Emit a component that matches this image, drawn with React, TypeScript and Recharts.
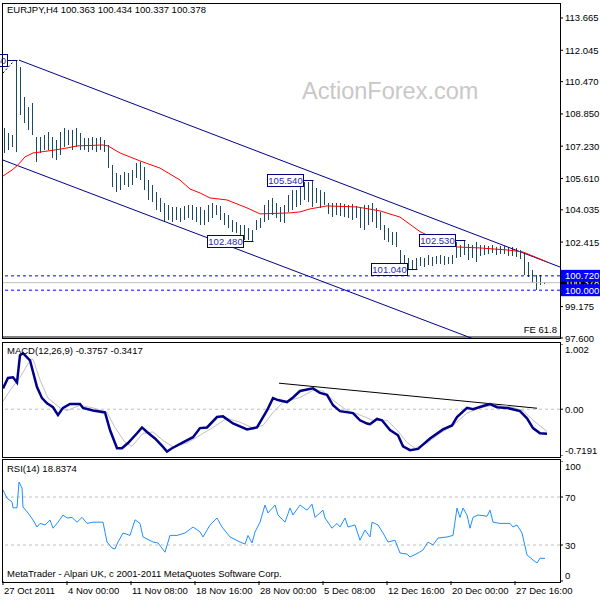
import React from "react";
import {
  ComposedChart,
  Bar,
  Line,
  XAxis,
  YAxis,
  ReferenceLine,
  ReferenceDot,
} from "recharts";

const FONT = "'Liberation Sans', Arial, sans-serif";
const FS = 9.5;

// H4 bars, two real bars per slot
const barHigh = [
  108.14, 107.89, 107.79, 111.55, 111.21, 109.7, 109.2, 109.4, 107.69, 107.69,
  107.79, 107.94, 107.69, 107.54, 107.94, 108.14, 108.04, 108.04, 108.14, 107.89,
  107.64, 107.64, 107.69, 107.64, 107.69, 107.54, 107.29, 106.29, 105.88, 105.78,
  105.93, 105.88, 106.03, 106.39, 106.44, 106.19, 105.53, 105.28, 104.93, 104.63,
  104.38, 104.28, 104.18, 104.18, 104.13, 104.23, 104.28, 104.28, 104.18, 104.18,
  104.03, 104.28, 104.38, 104.28, 104.23, 103.87, 103.77, 103.52, 103.42, 103.27,
  103.27, 103.12, 103.02, 103.52, 103.62, 104.28, 104.53, 104.63, 104.38, 104.18,
  104.28, 104.78, 105.03, 105.03, 105.28, 105.43, 105.43, 105.54, 105.13, 105.03,
  104.93, 104.38, 104.38, 104.38, 104.38, 104.33, 104.28, 104.33, 104.23, 104.13,
  104.28, 104.28, 104.38, 104.13, 103.93, 103.27, 103.12, 102.92, 102.92, 102.02,
  101.77, 101.62, 101.52, 101.62, 101.67, 101.62, 101.77, 101.67, 101.72, 101.77,
  101.72, 101.67, 101.77, 102.42, 102.27, 102.53, 102.32, 102.27, 102.42, 102.27,
  102.27, 102.22, 102.27, 102.17, 102.22, 102.22, 102.17, 102.17, 102.12, 102.02,
  101.87, 101.42, 101.01, 100.76, 100.76, 100.43,
];

const barLow = [
  106.89, 107.04, 107.19, 106.94, 108.79, 108.39, 108.04, 107.79, 106.44, 106.89,
  107.04, 107.04, 106.64, 106.54, 106.79, 107.19, 107.29, 107.04, 107.19, 107.04,
  107.04, 106.94, 107.04, 106.94, 107.04, 106.94, 106.13, 105.18, 104.93, 105.03,
  105.28, 105.18, 105.28, 105.63, 105.53, 105.03, 104.53, 104.43, 104.03, 103.93,
  103.42, 103.52, 103.42, 103.52, 103.42, 103.52, 103.62, 103.52, 103.42, 103.27,
  103.27, 103.42, 103.62, 103.77, 103.52, 103.27, 103.12, 102.92, 102.87, 102.77,
  102.52, 102.52, 102.48, 103.02, 103.12, 103.42, 103.52, 103.77, 103.62, 103.42,
  103.37, 103.93, 104.03, 104.18, 104.28, 104.53, 104.43, 104.18, 104.38, 104.13,
  104.28, 103.83, 103.67, 103.77, 103.72, 103.67, 103.62, 103.52, 103.62, 103.12,
  103.02, 103.27, 103.42, 103.12, 103.02, 102.52, 102.42, 102.27, 102.17, 101.11,
  101.07, 101.09, 101.06, 101.04, 101.22, 101.16, 101.27, 101.22, 101.32, 101.32,
  101.27, 101.32, 101.32, 101.62, 101.67, 101.77, 101.52, 101.62, 101.42, 101.72,
  101.77, 101.82, 101.87, 101.77, 101.82, 101.82, 101.72, 101.72, 101.67, 101.57,
  100.76, 100.66, 100.36, 100.0, 100.26, 100.34,
];

// moving average (red), [slot, price]
const maPoints: [number, number][] = [
  [-0.75, 105.7], [1.75, 106.03], [3.25, 106.29], [5, 106.69], [7, 106.89],
  [9, 106.94], [12.5, 107.04], [15.5, 107.14], [18, 107.24], [24.5, 107.29],
  [25.75, 107.24], [28.75, 106.89], [33.75, 106.49], [38.75, 106.13], [43.75, 105.53],
  [46.25, 105.08], [48.75, 104.88], [51.25, 104.63], [55.5, 104.53], [60.5, 104.13],
  [63.75, 103.83], [71.25, 103.88], [73.75, 103.93], [76.25, 104.08], [80.5, 104.23],
  [88, 104.18], [93.75, 103.98], [98.75, 103.67], [103.75, 102.94], [105.5, 102.77],
  [108.75, 102.52], [113, 102.17], [118.75, 102.12], [125.5, 102.02], [129.5, 101.92],
  [135.5, 101.42],
];

const macdPoints: [number, number][] = [
  [-0.5, 0.32], [0.75, 0.48], [2, 0.49], [3, 0.41], [3.75, 0.83], [4.5, 0.86],
  [6.25, 0.75], [8, 0.34], [9.25, 0.17], [10.5, 0.09], [12, 0.03], [13.25, -0.09],
  [14.5, 0.02], [16.25, 0.08], [18.75, 0.08], [19.5, 0.02], [22, -0.02], [25, -0.05],
  [26.25, -0.32], [28, -0.6], [29.25, -0.6], [30.75, -0.52], [33, -0.37], [34.25, -0.28],
  [35.5, -0.35], [37.5, -0.45], [39.5, -0.58], [40.5, -0.65], [41.75, -0.6], [44.5, -0.51],
  [47, -0.43], [48.75, -0.29], [50.5, -0.28], [53, -0.12], [54.5, -0.11], [57, -0.22],
  [60.5, -0.31], [63, -0.28], [65.5, -0.02], [67, 0.17], [68.25, 0.14], [70.5, 0.11],
  [72, 0.18], [73.75, 0.28], [77, 0.32], [78.75, 0.25], [80.5, 0.22], [82, 0.06],
  [83.75, -0.03], [87, -0.06], [88.75, -0.17], [90.5, -0.22], [91.25, -0.23], [93, -0.15],
  [94.25, -0.17], [96.25, -0.32], [98.25, -0.4], [99.5, -0.57], [101.25, -0.63],
  [103.25, -0.61], [106.25, -0.45], [109.5, -0.31], [111.75, -0.25], [113, -0.12],
  [115.5, 0.02], [117, 0.0], [119.5, 0.05], [121.25, 0.08], [123, 0.03], [125.5, 0.02],
  [128.75, -0.03], [130.5, -0.14], [132, -0.29], [133.75, -0.37], [135.5, -0.3757],
];

const signalPoints: [number, number][] = [
  [-0.5, 0.12], [1.25, 0.29], [3.75, 0.49], [6.25, 0.75], [7, 0.77], [8.75, 0.45],
  [10.75, 0.17], [13.75, 0.02], [15.5, -0.02], [18.75, 0.06], [22, 0.02], [25.5, -0.05],
  [27.5, -0.28], [30, -0.51], [31.75, -0.57], [34.5, -0.37], [37, -0.35], [39.5, -0.48],
  [42, -0.58], [45.5, -0.52], [48.75, -0.4], [52, -0.28], [55.5, -0.14], [58.75, -0.2],
  [62, -0.29], [64.5, -0.25], [67, -0.05], [69.5, 0.11], [72, 0.15], [73.75, 0.18],
  [77, 0.29], [79.5, 0.28], [82, 0.14], [85.5, -0.02], [88.75, -0.09], [92, -0.17],
  [95.5, -0.17], [98, -0.32], [100.5, -0.51], [102.5, -0.6], [105.5, -0.52],
  [108.75, -0.37], [112, -0.25], [115.5, -0.06], [118.75, 0.02], [122, 0.06],
  [125.5, 0.05], [129.5, -0.02], [132, -0.17], [135.5, -0.3417],
];

const rsiPoints: [number, number][] = [
  [-0.5, 75.8], [0.5, 69], [1.75, 66], [2, 61], [3, 61], [3.5, 82.5], [4.25, 77.5],
  [4.5, 61.7], [5.75, 56.7], [7, 50.8], [8, 45], [8.75, 48], [10, 46.7], [11.25, 50.8],
  [12, 44], [13.25, 49], [14.5, 55], [15.5, 52.5], [16.75, 53], [18, 49], [19.25, 53],
  [20.5, 48], [22, 49], [24.5, 49], [25.5, 32.5], [26.75, 27.5], [27.5, 26.7],
  [28.25, 32.5], [29.5, 40], [31.25, 38], [32.5, 51], [33.75, 48], [34.5, 36.7],
  [37, 32.5], [38.25, 31.7], [40, 24], [41.25, 38], [43, 38], [45, 40], [47, 45],
  [48.75, 41], [49.5, 36.7], [51.25, 46.7], [53, 52.5], [54.25, 45], [56.25, 36.7],
  [58.75, 32.5], [60, 30.8], [60.75, 38], [61.75, 31.7], [62.5, 40.8], [63.75, 49],
  [65, 63.3], [65.75, 56.7], [67.5, 63.3], [68.25, 55], [70, 49], [71.25, 60.8],
  [72, 55], [73.75, 63.3], [75.5, 59], [76.75, 64], [77.5, 53], [79.5, 59], [80, 52.5],
  [81.75, 44], [83, 48], [83.75, 45], [85, 52.5], [85.75, 45], [87.5, 46.7], [88.75, 34],
  [90, 42.5], [91.25, 36.7], [91.75, 49], [93.25, 46.7], [94.5, 40], [95.75, 32.5],
  [97.5, 34], [98.75, 23.3], [100.5, 22.5], [101.25, 20], [103.25, 23.3], [104.5, 25.8],
  [105.75, 32.5], [107, 30], [108.25, 35.8], [110.5, 36.7], [112, 38], [113, 60.8],
  [113.75, 53], [114.5, 60.8], [115.5, 55], [116.25, 44], [117, 53], [118.25, 55],
  [120.5, 54], [121.25, 59], [122, 49], [123.75, 48], [126.25, 48], [127, 45],
  [128, 46.7], [129.25, 40], [130.5, 21.7], [132, 17.5], [133, 15], [133.75, 19],
  [135, 18.8374],
];

const priceTicks = [113.665, 112.045, 110.47, 108.85, 107.23, 105.61, 104.035, 102.415, 99.175, 97.6];
const levelTicks = [100.378, 100.72, 100.0];
const macdTicks = [1.002, 0, -0.7191];
const rsiTicks = [100, 70, 30, 0];

const timeTicks = [-0.5, 15.5, 31.5, 47.5, 63.5, 79.5, 95.5, 111.5, 127.5];
const timeLabels = [
  "27 Oct 2011", "4 Nov 00:00", "11 Nov 08:00", "18 Nov 16:00", "28 Nov 00:00",
  "5 Dec 08:00", "12 Dec 16:00", "20 Dec 00:00", "27 Dec 16:00",
];

const swingSlots = [3, 77, 62, 103, 115];
const swingPrices = [111.55, 105.54, 102.48, 101.04, 102.53];

const bars = barHigh.map((h, i) => ({ t: i, range: [barLow[i], h] }));
const rows = (pts: [number, number][]) => pts.map(([t, v]) => ({ t, v }));

const X_DOMAIN: [number, number] = [-0.75, 138.75];

const BarShape = (p: any) => {
  const { x, y, width, height } = p;
  const top = Math.min(y, y + height);
  return (
    <rect
      x={Math.floor(x + width / 2)}
      y={Math.round(top)}
      width={1}
      height={Math.max(1, Math.round(Math.abs(height)))}
      fill="#1b4a5e"
    />
  );
};

const swingTag = (text: string) => (p: any) => {
  const cx = Math.round(p.cx) + 0.5;
  const cy = Math.round(p.cy) + 0.5;
  const right = cx - 10;
  return (
    <g>
      <line x1={right} y1={cy} x2={cx} y2={cy} stroke="#000080" />
      <rect x={right - 36} y={cy - 6} width={36} height={12} fill="#fff" stroke="#000080" />
      <text
        x={right - 18}
        y={cy + 3.5}
        textAnchor="middle"
        fontSize={FS}
        fontFamily={FONT}
        fill="#2a2aa8"
      >
        {text}
      </text>
    </g>
  );
};

const PriceTick = (p: any) => {
  const { x, y, payload } = p;
  const v = payload.value as number;
  const label = v.toFixed(3);
  if (levelTicks.includes(v)) {
    const fill = v === 100.378 ? "#000" : "#0000ff";
    return (
      <g>
        <rect x={561} y={y - 6} width={39} height={12} fill={fill} />
        <text x={x} y={y} dy={3.5} fontSize={FS} fontFamily={FONT} fill="#fff">
          {label}
        </text>
      </g>
    );
  }
  return (
    <text x={x} y={y} dy={3.5} fontSize={FS} fontFamily={FONT} fill="#000">
      {label}
    </text>
  );
};

const edgeTick = (top: number, bottom: number, fmt: (v: number) => string) => (p: any) => {
  const { x, y, payload } = p;
  const v = payload.value as number;
  const shift = v === top ? 5 : v === bottom ? -6 : 0;
  return (
    <text x={x} y={y + shift} dy={3.5} fontSize={FS} fontFamily={FONT} fill="#000">
      {fmt(v)}
    </text>
  );
};

const TimeTick = (p: any) => {
  const { x, y, payload } = p;
  const idx = timeTicks.indexOf(payload.value);
  return (
    <text x={x + 1} y={y} dy="0.71em" fontSize={FS} fontFamily={FONT} fill="#000">
      {timeLabels[idx]}
    </text>
  );
};

const txt = (left: number, cy: number, s: string, extra: any = {}) => (
  <div
    style={{
      position: "absolute",
      left,
      top: cy - 6,
      lineHeight: "12px",
      fontSize: FS,
      fontFamily: FONT,
      color: "#000",
      whiteSpace: "nowrap",
      ...extra,
    }}
  >
    {s}
  </div>
);

const frame = (top: number, height: number) => (
  <div
    style={{
      position: "absolute",
      left: 2,
      top,
      width: 559,
      height,
      border: "1px solid #000",
      boxSizing: "border-box",
    }}
  />
);

export default function App() {
  return (
    <div
      style={{
        position: "absolute",
        left: 0,
        top: 0,
        width: 600,
        height: 600,
        background: "#fff",
        overflow: "hidden",
      }}
    >
      <div
        style={{
          position: "absolute",
          left: 302,
          top: 77,
          fontSize: 23.5,
          fontFamily: FONT,
          color: "#c8c8c8",
          lineHeight: "28px",
        }}
      >
        ActionForex.com
      </div>

      {/* price panel */}
      <div style={{ position: "absolute", left: 0, top: 0 }}>
        <ComposedChart
          width={600}
          height={345}
          data={bars}
          margin={{ top: 3, right: 0, bottom: 7, left: 2 }}
        >
          <XAxis dataKey="t" type="number" domain={X_DOMAIN} allowDataOverflow hide />
          <YAxis
            orientation="right"
            width={40}
            type="number"
            domain={[97.6, 114.417]}
            allowDataOverflow
            ticks={[...priceTicks, ...levelTicks]}
            interval={0}
            tick={PriceTick}
            tickSize={3}
            tickMargin={2}
            tickLine={{ stroke: "#000" }}
            axisLine={false}
          />
          <ReferenceLine y={100.378} stroke="#c0c0c0" />
          <ReferenceLine y={100.72} stroke="#0000ff" strokeDasharray="3 3" />
          <ReferenceLine y={100.0} stroke="#0000ff" strokeDasharray="3 3" />
          <ReferenceLine y={97.65} stroke="#000" />
          <ReferenceLine
            segment={[{ x: 3.5, y: 111.55 }, { x: 138.75, y: 101.164 }]}
            stroke="#00008b"
            ifOverflow="hidden"
          />
          <ReferenceLine
            segment={[{ x: -0.75, y: 106.55 }, { x: 118.75, y: 97.43 }]}
            stroke="#00008b"
            ifOverflow="hidden"
          />
          <ReferenceLine
            segment={[{ x: -0.5, y: 110.9 }, { x: 2, y: 111.46 }]}
            stroke="#000"
            strokeDasharray="2 2"
            ifOverflow="hidden"
          />
          <Bar dataKey="range" barSize={1} shape={BarShape} isAnimationActive={false} />
          <Line
            data={rows(maPoints)}
            dataKey="v"
            type="linear"
            stroke="#ff0000"
            strokeWidth={1}
            dot={false}
            isAnimationActive={false}
          />
          {swingSlots.map((t, i) => (
            <ReferenceDot
              key={t}
              x={t}
              y={swingPrices[i]}
              ifOverflow="hidden"
              shape={swingTag(swingPrices[i].toFixed(3))}
            />
          ))}
        </ComposedChart>
      </div>

      {/* MACD panel */}
      <div style={{ position: "absolute", left: 0, top: 344 }}>
        <ComposedChart width={600} height={112} margin={{ top: 0, right: 0, bottom: 0, left: 2 }}>
          <XAxis dataKey="t" type="number" domain={X_DOMAIN} allowDataOverflow hide />
          <YAxis
            orientation="right"
            width={40}
            type="number"
            domain={[-0.7191, 1.002]}
            allowDataOverflow
            ticks={macdTicks}
            interval={0}
            tick={edgeTick(1.002, -0.7191, (v) => (v === 0 ? "0.00" : String(v)))}
            tickSize={3}
            tickMargin={2}
            tickLine={{ stroke: "#000" }}
            axisLine={false}
          />
          <ReferenceLine y={0} stroke="#c0c0c0" strokeDasharray="3 3" />
          <ReferenceLine
            segment={[{ x: 68.5, y: 0.4 }, { x: 133, y: 0.015 }]}
            stroke="#000"
          />
          <Line
            data={rows(signalPoints)}
            dataKey="v"
            type="linear"
            stroke="#c0c0c0"
            strokeWidth={1}
            dot={false}
            isAnimationActive={false}
          />
          <Line
            data={rows(macdPoints)}
            dataKey="v"
            type="linear"
            stroke="#00008b"
            strokeWidth={2.5}
            dot={false}
            isAnimationActive={false}
          />
        </ComposedChart>
      </div>

      {/* RSI panel */}
      <div style={{ position: "absolute", left: 0, top: 461 }}>
        <ComposedChart width={600} height={139} margin={{ top: 0, right: 0, bottom: 0, left: 2 }}>
          <XAxis
            dataKey="t"
            type="number"
            domain={X_DOMAIN}
            allowDataOverflow
            ticks={timeTicks}
            interval={0}
            tick={TimeTick}
            tickSize={4}
            tickMargin={2}
            tickLine={{ stroke: "#000" }}
            axisLine={false}
            height={19}
          />
          <YAxis
            orientation="right"
            width={40}
            type="number"
            domain={[0, 100]}
            allowDataOverflow
            ticks={rsiTicks}
            interval={0}
            tick={edgeTick(100, 0, (v) => String(v))}
            tickSize={3}
            tickMargin={2}
            tickLine={{ stroke: "#000" }}
            axisLine={false}
          />
          <ReferenceLine y={70} stroke="#c0c0c0" strokeDasharray="3 3" />
          <ReferenceLine y={30} stroke="#c0c0c0" strokeDasharray="3 3" />
          <Line
            data={rows(rsiPoints)}
            dataKey="v"
            type="linear"
            stroke="#1e90ff"
            strokeWidth={1}
            dot={false}
            isAnimationActive={false}
          />
        </ComposedChart>
      </div>

      {frame(3, 336)}
      {frame(342, 116)}
      {frame(459, 124)}

      {txt(7, 10, "EURJPY,H4  100.363 100.434 100.337 100.378")}
      {txt(0, 330, "FE 61.8", { width: 557, textAlign: "right" })}
      {txt(7, 351, "MACD(12,26,9) -0.3757 -0.3417")}
      {txt(7, 469, "RSI(14) 18.8374")}
      {txt(7, 574, "MetaTrader - Alpari UK, c 2001-2011 MetaQuotes Software Corp.")}
    </div>
  );
}
